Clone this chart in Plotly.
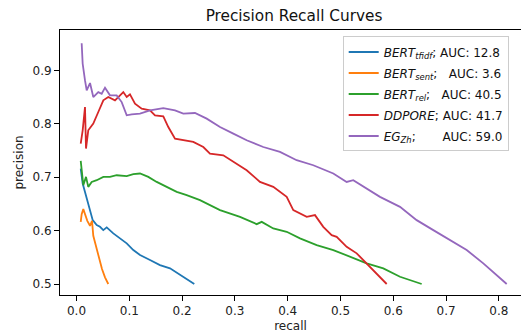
import plotly.graph_objects as go

# ---- data ----
tfidf_recall = [0.008, 0.0117, 0.0161, 0.0205, 0.0256, 0.0307, 0.0383, 0.0445, 0.0508, 0.0572,
                0.0697, 0.0824, 0.0951, 0.1076, 0.1203, 0.1392, 0.1581, 0.1771, 0.1958, 0.2087, 0.2231]
tfidf_precision = [0.7163, 0.6882, 0.6725, 0.657, 0.6351, 0.6196, 0.6103, 0.6071, 0.6009, 0.606,
                   0.5948, 0.5854, 0.5761, 0.5636, 0.5542, 0.5449, 0.5355, 0.5293, 0.5168, 0.5088, 0.5]

sent_recall = [0.008, 0.0098, 0.0129, 0.0161, 0.0205, 0.0256, 0.0294, 0.0318, 0.0383, 0.0432,
               0.0483, 0.054, 0.0602]
sent_precision = [0.6164, 0.6308, 0.6402, 0.6308, 0.6183, 0.609, 0.6183, 0.5903, 0.5654, 0.5467,
                  0.528, 0.5125, 0.5]

rel_recall = [0.008, 0.0098, 0.0129, 0.018, 0.0223, 0.0288, 0.0383, 0.0508, 0.0634, 0.0761,
              0.0951, 0.1076, 0.1203, 0.136, 0.1519, 0.1708, 0.1898, 0.2087, 0.2339, 0.2718,
              0.3097, 0.3413, 0.3508, 0.3727, 0.3981, 0.4233, 0.4549, 0.4864, 0.518, 0.5496,
              0.5811, 0.6127, 0.6538]
rel_precision = [0.7305, 0.7131, 0.685, 0.7006, 0.6819, 0.6912, 0.6944, 0.7006, 0.7006, 0.7037,
                 0.7019, 0.7056, 0.7069, 0.7006, 0.6912, 0.6819, 0.6725, 0.6664, 0.657, 0.6383,
                 0.6258, 0.6121, 0.6164, 0.6041, 0.5978, 0.5854, 0.5729, 0.5636, 0.551, 0.5387,
                 0.5293, 0.5136, 0.5]

ddpore_recall = [0.008, 0.0117, 0.0161, 0.018, 0.0223, 0.0318, 0.0413, 0.0508, 0.0602, 0.0729,
                 0.0792, 0.0886, 0.0951, 0.1013, 0.1108, 0.1235, 0.1392, 0.1487, 0.1644, 0.1739,
                 0.1866, 0.2055, 0.2212, 0.2402, 0.2528, 0.278, 0.297, 0.3223, 0.3475, 0.3727,
                 0.3981, 0.4106, 0.436, 0.4517, 0.4674, 0.4833, 0.4928, 0.5117, 0.5307, 0.5496,
                 0.5686, 0.5875]
ddpore_precision = [0.763, 0.7879, 0.8314, 0.7536, 0.7879, 0.8004, 0.8221, 0.8439, 0.8501, 0.8439,
                    0.8501, 0.8594, 0.8501, 0.8551, 0.8378, 0.8284, 0.8252, 0.8159, 0.814, 0.794,
                    0.7723, 0.7692, 0.766, 0.7566, 0.7443, 0.7411, 0.7286, 0.7131, 0.6912, 0.6819,
                    0.6632, 0.6383, 0.6258, 0.629, 0.6071, 0.5916, 0.5884, 0.5697, 0.5574, 0.5387,
                    0.52, 0.5]

eg_recall = [0.0098, 0.0117, 0.0161, 0.0193, 0.0256, 0.0318, 0.0413, 0.0477, 0.054, 0.0634,
             0.0761, 0.0856, 0.0951, 0.1045, 0.1203, 0.1392, 0.1644, 0.1866, 0.2023, 0.2244,
             0.2466, 0.2718, 0.297, 0.3223, 0.3538, 0.3854, 0.417, 0.4485, 0.4864, 0.5117,
             0.5242, 0.5748, 0.6127, 0.6443, 0.6758, 0.7136, 0.739, 0.7705, 0.8148]
eg_precision = [0.951, 0.9125, 0.8813, 0.8626, 0.8763, 0.8501, 0.8594, 0.8564, 0.8677, 0.8533,
                0.8533, 0.8407, 0.8159, 0.8178, 0.8191, 0.8252, 0.8295, 0.8252, 0.8191, 0.8202,
                0.8097, 0.794, 0.7817, 0.7692, 0.7566, 0.7473, 0.7318, 0.7224, 0.7069, 0.6912,
                0.6944, 0.6632, 0.6445, 0.6196, 0.6009, 0.5791, 0.5636, 0.5387, 0.5]

NB = "\u00a0"
labels = [
    "<i>BERT</i><sub><i>tfidf</i></sub>;" + NB + "AUC: 12.8",
    "<i>BERT</i><sub><i>sent</i></sub>;" + NB * 3 + "AUC: 3.6",
    "<i>BERT</i><sub><i>rel</i></sub>;" + NB * 3 + "AUC: 40.5",
    "<i>DDPORE</i>;" + NB + "AUC: 41.7",
    "<i>EG</i><sub><i>Zh</i></sub>;" + NB * 7 + "AUC: 59.0",
]
colors = ["#1f77b4", "#ff7f0e", "#2ca02c", "#d62728", "#9467bd"]
series = [(tfidf_recall, tfidf_precision), (sent_recall, sent_precision),
          (rel_recall, rel_precision), (ddpore_recall, ddpore_precision),
          (eg_recall, eg_precision)]

FONT = "DejaVu Sans"
fig = go.Figure()
for i, ((xs, ys), lab, col) in enumerate(zip(series, labels, colors)):
    fig.add_trace(go.Scatter(x=xs, y=ys, mode="lines", name=lab,
                             line=dict(color=col, width=1.8),
                             legendgroup=f"g{i}"))

W, H = 521, 336
fig.update_layout(
    width=W, height=H,
    margin=dict(l=60, r=0, t=29.5, b=41, autoexpand=False),
    paper_bgcolor="white", plot_bgcolor="white",
    font=dict(family=FONT, size=12, color="#222"),
    title=dict(text="Precision Recall Curves", font=dict(size=15.3, color="#111"),
               x=294 / W, xref="container", xanchor="center",
               y=1 - 15.5 / H, yref="container", yanchor="middle"),
    showlegend=True,
    legend=dict(x=(342.7 - 60) / 461, xanchor="left", y=(295 - 36) / 265.5, yanchor="top",
                bgcolor="rgba(255,255,255,0.8)", bordercolor="#cccccc", borderwidth=1,
                font=dict(size=12, color="#111"), itemwidth=30, tracegroupgap=2,
                traceorder="grouped"),
)
fig.update_xaxes(range=[-0.03125, 0.8419], tickvals=[0, 0.1, 0.2, 0.3, 0.4, 0.5, 0.6, 0.7, 0.8],
                 ticktext=["0.0", "0.1", "0.2", "0.3", "0.4", "0.5", "0.6", "0.7", "0.8"],
                 showgrid=False, zeroline=False, showline=True, linecolor="black", linewidth=1,
                 mirror=True, ticks="outside", ticklen=5, tickwidth=1, tickcolor="black",
                 title=dict(text="recall", font=dict(size=12), standoff=4))
fig.update_yaxes(range=[0.4794, 0.9757], tickvals=[0.5, 0.6, 0.7, 0.8, 0.9],
                 ticktext=["0.5", "0.6", "0.7", "0.8", "0.9"],
                 showgrid=False, zeroline=False, showline=True, linecolor="black", linewidth=1,
                 mirror=False, ticks="outside", ticklen=5, tickwidth=1, tickcolor="black",
                 title=dict(text="precision", font=dict(size=12), standoff=6))
fig.write_html("out.html")
